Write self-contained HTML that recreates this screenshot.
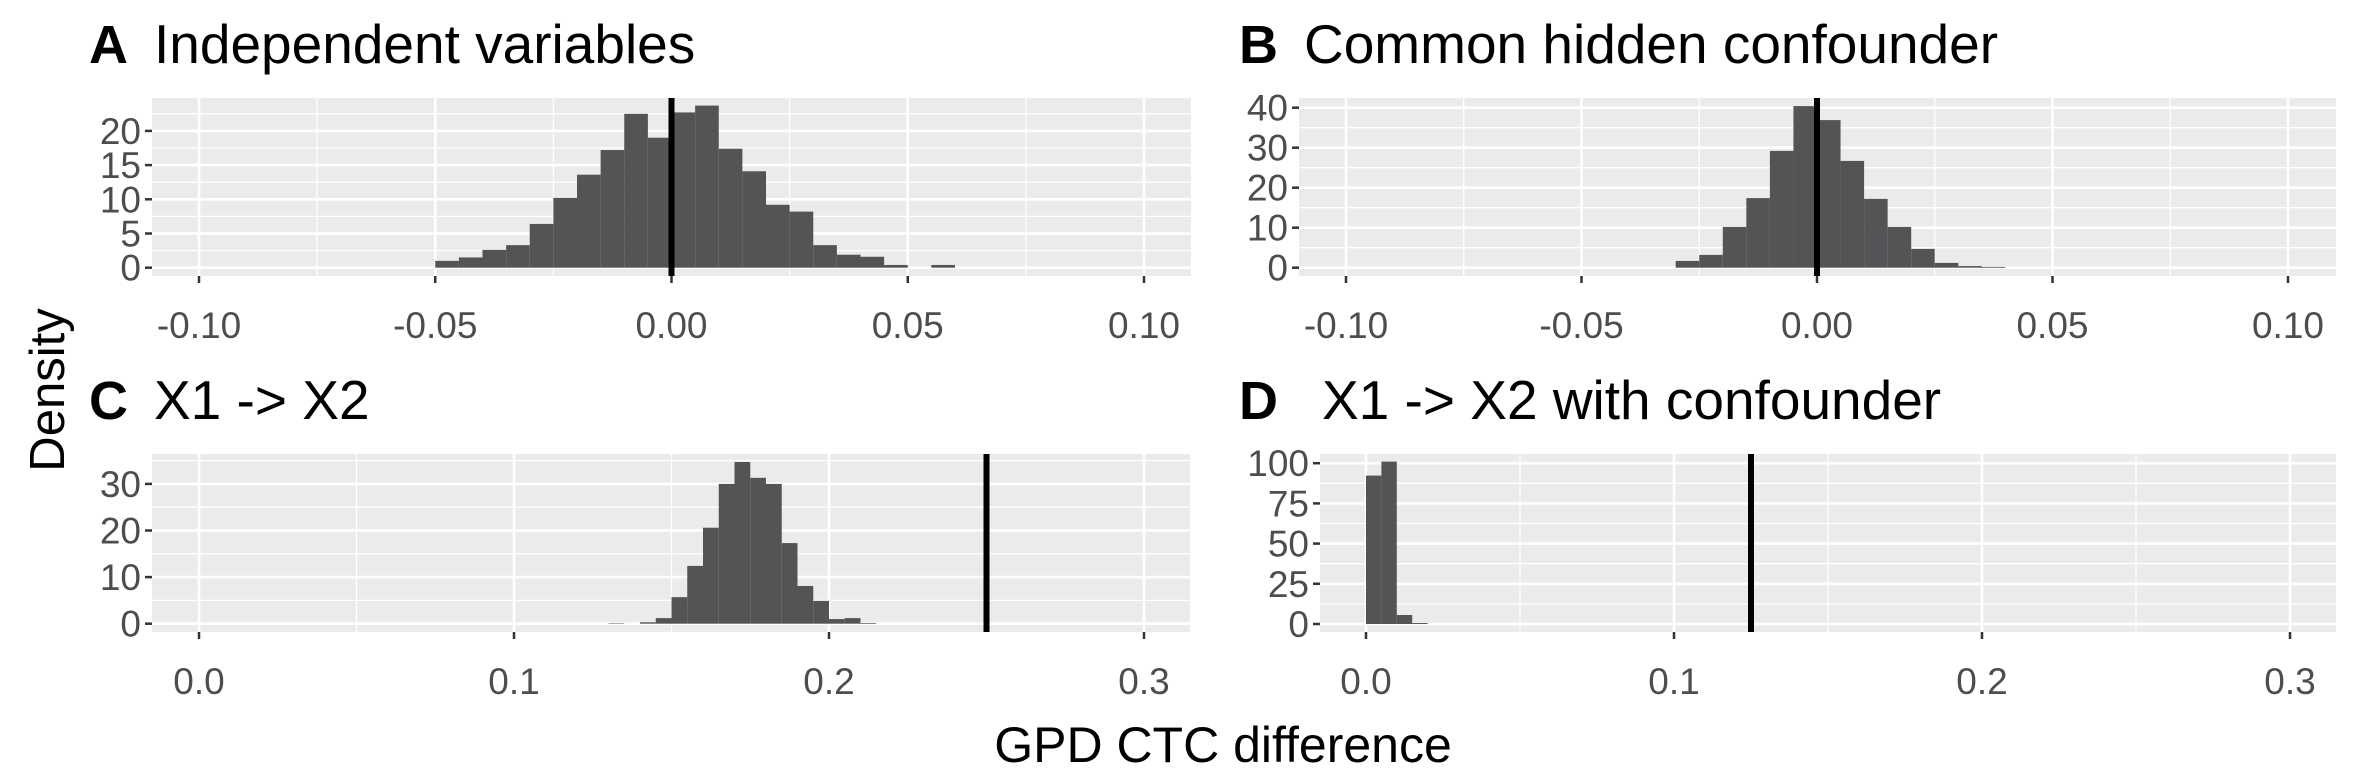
<!DOCTYPE html>
<html><head><meta charset="utf-8"><style>
body{margin:0;background:#fff;}
svg text{font-family:"Liberation Sans",Arial,sans-serif;}
</style></head><body>
<svg id="chart" width="2362" height="779" viewBox="0 0 2362 779" xmlns="http://www.w3.org/2000/svg">
<text x="0" y="0" transform="translate(64,390) rotate(-90)" font-size="49" text-anchor="middle" fill="#000">Density</text>
<text x="1223" y="762" font-size="50" text-anchor="middle" fill="#000">GPD CTC difference</text>
</svg>
<script>
const binWidth = 0.005;
const aBins = [-0.05,-0.045,-0.04,-0.035,-0.03,-0.025,-0.02,-0.015,-0.01,-0.005,0,0.005,0.01,0.015,0.02,0.025,0.03,0.035,0.04,0.045,0.055];
const aVals = [1.0,1.5,2.6,3.3,6.4,10.2,13.6,17.2,22.5,19.0,22.7,23.7,17.4,14.1,9.2,8.2,3.3,1.9,1.6,0.4,0.4];
const bBins = [-0.03,-0.025,-0.02,-0.015,-0.01,-0.005,0,0.005,0.01,0.015,0.02,0.025,0.03,0.035];
const bVals = [1.7,3.2,10.2,17.4,29.2,40.4,36.9,26.7,17.2,10.2,4.7,1.2,0.4,0.2];
const cBins = [0.13,0.14,0.145,0.15,0.155,0.16,0.165,0.17,0.175,0.18,0.185,0.19,0.195,0.2,0.205,0.21];
const cVals = [0.1,0.3,1.2,5.7,12.4,20.6,30.0,34.7,31.3,30.0,17.3,8.1,4.9,1.0,1.2,0.15];
const dBins = [0,0.005,0.01,0.015];
const dVals = [92.3,101,5.6,0.6];
const abXTicks = [-0.1,-0.05,0,0.05,0.1];
const abXLabels = ["-0.10","-0.05","0.00","0.05","0.10"];
const cdXTicks = [0,0.1,0.2,0.3];
const cdXLabels = ["0.0","0.1","0.2","0.3"];
const aYTicks = [0,5,10,15,20];
const bYTicks = [0,10,20,30,40];
const cYTicks = [0,10,20,30];
const dYTicks = [0,25,50,75,100];
const vlines = {A:0,B:0,C:0.25,D:0.125};

const NS="http://www.w3.org/2000/svg";
const svg=document.getElementById('chart');
function mk(tag,attrs,parent){const e=document.createElementNS(NS,tag);for(const k in attrs)e.setAttribute(k,attrs[k]);(parent||svg).appendChild(e);return e;}

const panels=[
 {id:'A',title:'Independent variables',tx:89,tx2:154,ty:63,x0:152,x1:1191,y0:98,y1:276,xmin:-0.1,xmax:0.1,px0:199,px1:1144,ymax0:267.7,ypu:6.84,bins:aBins,vals:aVals,xt:abXTicks,xl:abXLabels,yt:aYTicks,minor:0.025,xly:325},
 {id:'B',title:'Common hidden confounder',tx:1239,tx2:1304,ty:63,x0:1299,x1:2336,y0:98,y1:276,xmin:-0.1,xmax:0.1,px0:1346,px1:2288,ymax0:267.7,ypu:4.0,bins:bBins,vals:bVals,xt:abXTicks,xl:abXLabels,yt:bYTicks,minor:0.025,xly:325},
 {id:'C',title:'X1 -> X2',tx:89,tx2:154,ty:419,x0:152,x1:1190,y0:454,y1:632,xmin:0,xmax:0.3,px0:199,px1:1144,ymax0:623.7,ypu:4.66,bins:cBins,vals:cVals,xt:cdXTicks,xl:cdXLabels,yt:cYTicks,minor:0.05,xly:681},
 {id:'D',title:'X1 -> X2 with confounder',tx:1239,tx2:1322,ty:419,x0:1320,x1:2336,y0:454,y1:632,xmin:0,xmax:0.3,px0:1366,px1:2290,ymax0:624,ypu:1.608,bins:dBins,vals:dVals,xt:cdXTicks,xl:cdXLabels,yt:dYTicks,minor:0.05,xly:681}
];

panels.forEach(p=>{
 const g=mk('g',{});
 
 
 const sx=v=>p.px0+(v-p.xmin)/(p.xmax-p.xmin)*(p.px1-p.px0);
 const sy=v=>p.ymax0-v*p.ypu;
 const t1=mk('text',{x:p.tx,y:p.ty,'font-size':54,'font-weight':'bold',fill:'#000'},g);t1.textContent=p.id;
 
 
 const t2=mk('text',{x:p.tx2,y:p.ty,'font-size':55,fill:'#000'},g);t2.textContent=p.title;
 
 
 const bg=mk('rect',{x:p.x0,y:p.y0,width:p.x1-p.x0,height:p.y1-p.y0,fill:'#ebebeb'},g);
 
 
 for(let v=p.xmin-p.minor*4;v<=p.xmax+p.minor*4;v+=p.minor){const X=sx(v);if(X>p.x0&&X<p.x1)mk('line',{x1:X,x2:X,y1:p.y0,y2:p.y1,stroke:'#fff','stroke-width':1.3},g);}
 const ystep=p.yt[1]-p.yt[0];
 for(let v=-ystep/2;sy(v)>p.y0;v+=ystep){const Y=sy(v);if(Y<p.y1)mk('line',{x1:p.x0,x2:p.x1,y1:Y,y2:Y,stroke:'#fff','stroke-width':1.3},g);}
 p.xt.forEach(v=>{const X=sx(v);mk('line',{x1:X,x2:X,y1:p.y0,y2:p.y1,stroke:'#fff','stroke-width':2.6},g);});
 p.yt.forEach(v=>{const Y=sy(v);mk('line',{x1:p.x0,x2:p.x1,y1:Y,y2:Y,stroke:'#fff','stroke-width':2.6},g);});
 p.bins.forEach((b,i)=>{const X=sx(b),W=sx(b+binWidth)-X,Y=sy(p.vals[i]);
  const r=mk('rect',{x:X,y:Y,width:W,height:sy(0)-Y,fill:'#555356'},g);
  
  });
 const vx=sx(vlines[p.id]);
 const vl=mk('line',{x1:vx,x2:vx,y1:p.y0,y2:p.y1,stroke:'#000','stroke-width':6},g);
 
 
 p.xt.forEach((v,i)=>{const X=sx(v);mk('line',{x1:X,x2:X,y1:p.y1,y2:p.y1+7,stroke:'#333','stroke-width':2.5},g);
  const t=mk('text',{x:X,y:p.xly+13,'font-size':37,'text-anchor':'middle',fill:'#4d4d4d'},g);t.textContent=p.xl[i];
  
  });
 p.yt.forEach(v=>{const Y=sy(v);mk('line',{x1:p.x0-7,x2:p.x0,y1:Y,y2:Y,stroke:'#333','stroke-width':2.5},g);
  const t=mk('text',{x:p.x0-11,y:Y+13,'font-size':37,'text-anchor':'end',fill:'#4d4d4d'},g);t.textContent=String(v);
  
  });
});
</script>
</body></html>
